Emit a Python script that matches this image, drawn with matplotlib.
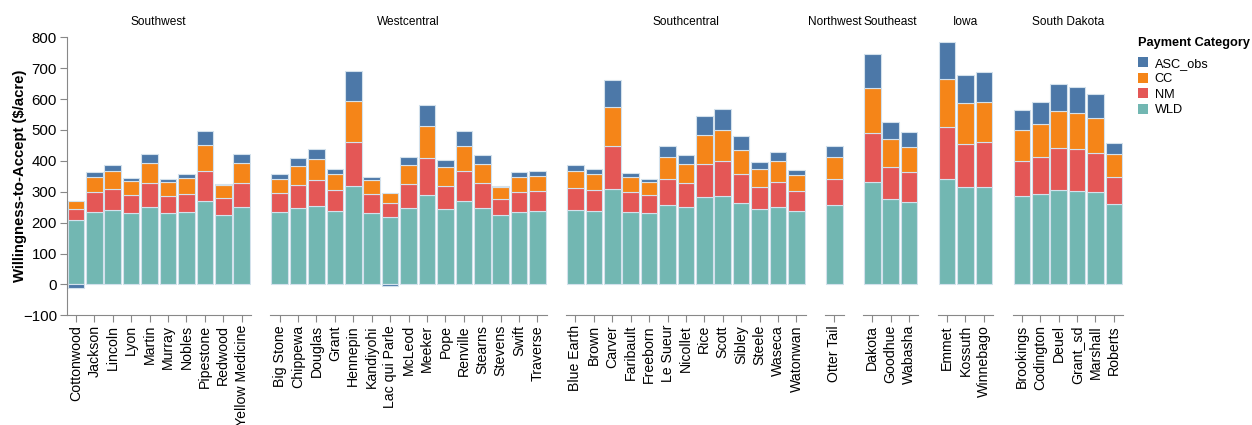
import matplotlib.pyplot as plt
from matplotlib.patches import Patch

plt.rcParams['font.family'] = ['Liberation Sans', 'DejaVu Sans']

regions = ["Southwest", "Westcentral", "Southcentral", "Northwest", "Southeast", "Iowa", "South Dakota"]

counties = [
    ["Cottonwood", "Jackson", "Lincoln", "Lyon", "Martin", "Murray", "Nobles", "Pipestone", "Redwood", "Yellow Medicine"],
    ["Big Stone", "Chippewa", "Douglas", "Grant", "Hennepin", "Kandiyohi", "Lac qui Parle", "McLeod", "Meeker",
     "Pope", "Renville", "Stearns", "Stevens", "Swift", "Traverse"],
    ["Blue Earth", "Brown", "Carver", "Faribault", "Freeborn", "Le Sueur", "Nicollet", "Rice", "Scott", "Sibley",
     "Steele", "Waseca", "Watonwan"],
    ["Otter Tail"],
    ["Dakota", "Goodhue", "Wabasha"],
    ["Emmet", "Kossuth", "Winnebago"],
    ["Brookings", "Codington", "Deuel", "Grant_sd", "Marshall", "Roberts"],
]

# payment components ($/acre) per county, same order as above
wld = [
    [208, 235, 242, 230, 251, 230, 234, 270, 226, 251],
    [233, 246, 255, 238, 319, 231, 217, 248, 289, 245, 270, 248, 225, 236, 237],
    [242, 239, 310, 235, 231, 257, 249, 282, 286, 265, 244, 252, 238],
    [257],
    [330, 276, 268],
    [341, 315, 316],
    [285, 293, 306, 303, 298, 259],
]
nm = [
    [37, 64, 68, 58, 77, 57, 60, 96, 54, 78],
    [62, 76, 82, 67, 143, 61, 45, 77, 120, 75, 96, 79, 51, 62, 64],
    [69, 66, 139, 63, 57, 83, 78, 109, 115, 92, 71, 81, 64],
    [83],
    [160, 104, 96],
    [169, 141, 144],
    [115, 119, 137, 134, 127, 88],
]
cc = [
    [24, 50, 56, 47, 66, 45, 49, 84, 41, 65],
    [47, 61, 69, 54, 133, 45, 33, 63, 104, 59, 83, 64, 39, 51, 51],
    [55, 51, 124, 50, 45, 71, 64, 94, 100, 78, 59, 67, 52],
    [72],
    [146, 91, 82],
    [155, 130, 131],
    [99, 108, 120, 119, 114, 74],
]
asc_obs = [
    [-11, 15, 21, 8, 29, 8, 14, 48, 4, 29],
    [14, 25, 34, 16, 96, 10, -4, 26, 69, 23, 47, 27, 4, 14, 15],
    [20, 17, 89, 14, 8, 36, 28, 60, 66, 44, 21, 30, 16],
    [36],
    [110, 55, 46],
    [120, 92, 97],
    [66, 71, 85, 83, 77, 38],
]

colors = {"ASC_obs": "#4c78a8", "CC": "#f58518", "NM": "#e45756", "WLD": "#72b7b2"}
edge = "#d3e1ec"
grey = "#888888"

W, H = 1252, 425
fig = plt.figure(figsize=(W / 100, H / 100), dpi=100)

step, gap = 18.42, 19.5
left0 = 66.7
top_px, bot_px = 37.3, 315.3

x_px = left0
for i, region in enumerate(regions):
    n = len(counties[i])
    w_px = n * step
    ax = fig.add_axes([x_px / W, (H - bot_px) / H, w_px / W, (bot_px - top_px) / H])
    x_px += w_px + gap

    pos = list(range(n))
    bw = 0.9
    ax.bar(pos, wld[i], bw, color=colors["WLD"], edgecolor=edge, linewidth=0.8)
    ax.bar(pos, nm[i], bw, bottom=wld[i], color=colors["NM"], edgecolor=edge, linewidth=0.8)
    base2 = [a + b for a, b in zip(wld[i], nm[i])]
    ax.bar(pos, cc[i], bw, bottom=base2, color=colors["CC"], edgecolor=edge, linewidth=0.8)
    base3 = [a + b for a, b in zip(base2, cc[i])]
    # negative ASC values stack downward from zero
    asc_bottom = [b if v >= 0 else 0 for b, v in zip(base3, asc_obs[i])]
    ax.bar(pos, asc_obs[i], bw, bottom=asc_bottom, color=colors["ASC_obs"], edgecolor=edge, linewidth=0.8)

    ax.set_xlim(-0.5, n - 0.5)
    ax.set_ylim(-100, 800)
    ax.set_xticks(pos)
    ax.set_xticklabels(counties[i], rotation=90, fontsize=10.2)
    ax.tick_params(axis='x', length=5, width=0.8, color=grey, pad=2)

    for side in ("top", "right"):
        ax.spines[side].set_visible(False)
    ax.spines["bottom"].set_color(grey)
    ax.spines["bottom"].set_linewidth(0.8)

    if i == 0:
        ax.spines["left"].set_color(grey)
        ax.spines["left"].set_linewidth(0.8)
        ax.set_yticks(range(-100, 801, 100))
        ax.tick_params(axis='y', length=5, width=0.8, color=grey, pad=2, labelsize=10.8)
        ax.set_ylabel("Willingness-to-Accept ($/acre)", fontsize=10.7, fontweight='bold')
        ax.yaxis.set_label_coords((20 - left0) / w_px, 0.5)
        ax.yaxis.label.set_va('center')
    else:
        ax.spines["left"].set_visible(False)
        ax.set_yticks([])

    ax.set_title(region, fontsize=8.6, pad=(top_px - 20.7) * 0.72 - 3)
    ax.patch.set_alpha(0)

handles = [Patch(facecolor=colors[k], edgecolor='none') for k in ["ASC_obs", "CC", "NM", "WLD"]]
leg = fig.legend(handles, ["ASC_obs", "CC", "NM", "WLD"], loc='upper left',
                 bbox_to_anchor=(1138 / W, 1 - 37 / H), frameon=False, fontsize=9.2,
                 title="Payment Category", title_fontproperties={'weight': 'bold', 'size': 9.2},
                 handlelength=0.8, handleheight=0.8, handletextpad=0.5, labelspacing=0.25,
                 borderaxespad=0, borderpad=0)
leg._legend_box.align = "left"
leg._legend_box.sep = 6

fig.savefig("out.png", dpi=100)
